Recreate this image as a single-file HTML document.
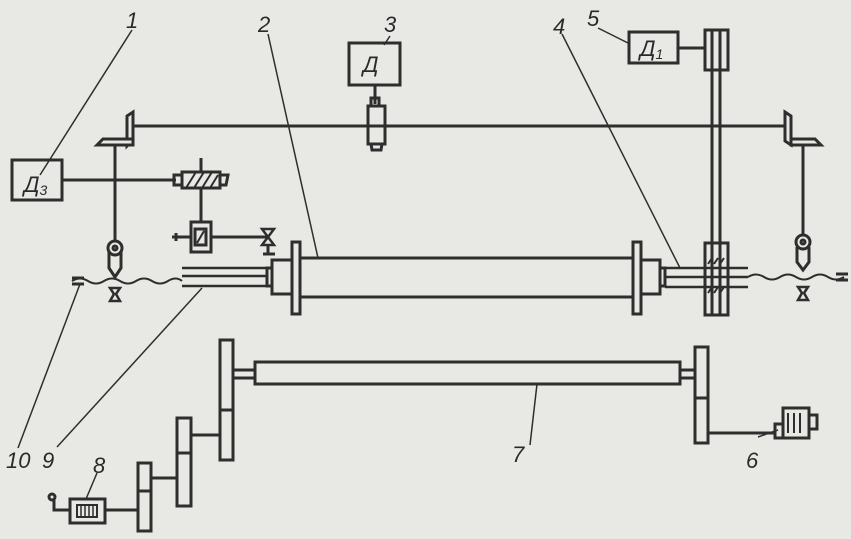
<!DOCTYPE html>
<html><head><meta charset="utf-8"><style>
html,body{margin:0;padding:0;background:#e8e8e5;}
svg{display:block}
text{font-family:"Liberation Sans",sans-serif;font-style:italic;fill:#2a2a2a}
</style></head><body>
<svg width="851" height="539" viewBox="0 0 851 539" xmlns="http://www.w3.org/2000/svg">
<rect width="851" height="539" fill="#e8e8e5"/>
<g stroke="#2e2e2e" stroke-width="3" fill="none">
<line x1="133" y1="126" x2="786" y2="126"/>
<path d="M127 146 L127 116 L133 112 L133 140 Z" fill="#e8e8e5"/>
<path d="M97 145 L103 139 L133 139 L133 145 Z" fill="#e8e8e5"/>
<line x1="115" y1="145" x2="115" y2="240"/>
<circle cx="115" cy="248" r="7"/><circle cx="115" cy="248" r="2"/>
<path d="M109 252 L109 268 L115 277 L121 268 L121 252"/>
<path d="M110 288 L120 288 L116 294 L120 301 L110 301 L114 294 Z" stroke-width="2.5"/>
<rect x="12" y="160" width="50" height="40"/>
<line x1="62" y1="180" x2="176" y2="180"/>
<rect x="174" y="175" width="8" height="10"/>
<rect x="182" y="172" width="38" height="16"/>
<path d="M186 188 L196 172 M194 188 L204 172 M202 188 L212 172 M210 188 L218 175" stroke-width="2"/>
<path d="M220 175 L228 175 L226 185 L220 185"/>
<line x1="201" y1="158" x2="201" y2="172"/>
<line x1="201" y1="188" x2="201" y2="222"/>
<path d="M191 222 L211 222 L211 252 L191 252 Z"/>
<rect x="195" y="229" width="11" height="16"/>
<line x1="197" y1="243" x2="204" y2="231" stroke-width="2"/>
<line x1="172" y1="237" x2="191" y2="237"/>
<line x1="176" y1="233" x2="176" y2="241"/>
<line x1="211" y1="237" x2="268" y2="237"/>
<path d="M262 229 L274 229 L268 237 L274 245 L262 245 L268 237 Z" stroke-width="2.5"/>
<line x1="263" y1="254" x2="275" y2="254"/><line x1="268" y1="245" x2="268" y2="254"/>
<rect x="298" y="258" width="337" height="39"/>
<rect x="292" y="242" width="8" height="72" fill="#e8e8e5"/>
<rect x="272" y="260" width="20" height="34"/>
<rect x="267" y="268" width="5" height="18"/>
<rect x="633" y="242" width="8" height="72" fill="#e8e8e5"/>
<rect x="641" y="260" width="19" height="34"/>
<rect x="660" y="268" width="5" height="18"/>
<line x1="182" y1="268" x2="267" y2="268" stroke-width="2.5"/>
<line x1="182" y1="276" x2="267" y2="276" stroke-width="2.5"/>
<line x1="182" y1="286" x2="267" y2="286" stroke-width="2.5"/>
<line x1="665" y1="268" x2="748" y2="268" stroke-width="2.5"/>
<line x1="665" y1="277" x2="748" y2="277" stroke-width="2.5"/>
<line x1="665" y1="287" x2="748" y2="287" stroke-width="2.5"/>
<path d="M72 281 q8 -5 16 0 t16 0 t16 0 t16 0 t16 0 t16 0 t14 0" stroke-width="2"/>
<path d="M748 277 q8 -5 16 0 t16 0 t16 0 t16 0 t16 0 t16 0" stroke-width="2"/>
<line x1="72" y1="278" x2="84" y2="278"/><line x1="72" y1="284" x2="84" y2="284"/>
<line x1="836" y1="274" x2="848" y2="274"/><line x1="836" y1="280" x2="848" y2="280"/>
<rect x="705" y="30" width="23" height="40" fill="#e8e8e5"/>
<line x1="712" y1="30" x2="712" y2="315"/><line x1="720" y1="30" x2="720" y2="315"/>
<rect x="705" y="243" width="23" height="72"/>
<path d="M708 264 L712 258 M714 264 L718 258 M720 264 L724 258 M708 293 L712 287 M714 293 L718 287 M720 293 L724 287" stroke-width="2"/>
<rect x="629" y="32" width="49" height="31"/>
<line x1="678" y1="48" x2="705" y2="48"/>
<rect x="349" y="43" width="51" height="42"/>
<line x1="375" y1="85" x2="375" y2="104"/>
<rect x="371" y="98" width="8" height="8"/>
<rect x="368" y="106" width="17" height="38"/>
<path d="M371 144 L372 150 L381 150 L382 144"/>
<path d="M785 112 L791 116 L791 145 L785 141 Z" fill="#e8e8e5"/>
<path d="M791 139 L815 139 L821 145 L791 145 Z" fill="#e8e8e5"/>
<line x1="803" y1="145" x2="803" y2="235"/>
<circle cx="803" cy="242" r="7"/><circle cx="803" cy="242" r="2"/>
<path d="M797 247 L797 262 L803 270 L809 262 L809 247"/>
<path d="M798 287 L808 287 L804 293 L808 300 L798 300 L802 293 Z" stroke-width="2.5"/>
<rect x="255" y="362" width="425" height="22"/>
<line x1="233" y1="370" x2="255" y2="370"/><line x1="233" y1="378" x2="255" y2="378"/>
<line x1="680" y1="370" x2="695" y2="370"/><line x1="680" y1="378" x2="695" y2="378"/>
<rect x="220" y="340" width="13" height="120"/><line x1="220" y1="410" x2="233" y2="410"/>
<rect x="695" y="347" width="13" height="96"/><line x1="695" y1="398" x2="708" y2="398"/>
<line x1="708" y1="433" x2="775" y2="433"/>
<rect x="775" y="424" width="8" height="14"/>
<rect x="783" y="408" width="26" height="30"/>
<path d="M788 413 L788 433 M794 413 L794 433 M800 413 L800 433" stroke-width="2"/>
<rect x="809" y="415" width="8" height="14"/>
<rect x="177" y="418" width="14" height="88"/><line x1="177" y1="453" x2="191" y2="453"/>
<line x1="191" y1="435" x2="220" y2="435"/>
<rect x="138" y="463" width="13" height="68"/><line x1="138" y1="491" x2="151" y2="491"/>
<line x1="151" y1="478" x2="177" y2="478"/>
<line x1="105" y1="510" x2="138" y2="510"/>
<rect x="70" y="499" width="35" height="24"/>
<rect x="77" y="505" width="20" height="12" stroke-width="2"/>
<path d="M81 506 L81 516 M85 506 L85 516 M89 506 L89 516 M93 506 L93 516" stroke-width="1.5"/>
<path d="M70 510 L54 510 L54 500" /><circle cx="52" cy="497" r="3"/>
<g stroke-width="1.5">
<line x1="132" y1="30" x2="40" y2="175"/>
<line x1="268" y1="34" x2="318" y2="258"/>
<line x1="390" y1="36" x2="384" y2="45"/>
<line x1="562" y1="34" x2="680" y2="268"/>
<line x1="598" y1="28" x2="630" y2="44"/>
<line x1="758" y1="437" x2="778" y2="430"/>
<line x1="530" y1="445" x2="537" y2="384"/>
<line x1="97" y1="473" x2="86" y2="499"/>
<line x1="57" y1="447" x2="202" y2="288"/>
<line x1="18" y1="448" x2="80" y2="284"/>
</g>
</g>
<g font-size="22">
<text x="126" y="28">1</text>
<text x="258" y="32">2</text>
<text x="384" y="32">3</text>
<text x="553" y="34">4</text>
<text x="587" y="26">5</text>
<text x="746" y="468">6</text>
<text x="512" y="462">7</text>
<text x="93" y="473">8</text>
<text x="42" y="468">9</text>
<text x="6" y="468">10</text>
<text x="24" y="192">Д<tspan font-size="14" dy="3">3</tspan></text>
<text x="363" y="72">Д</text>
<text x="640" y="56">Д<tspan font-size="14" dy="3">1</tspan></text>
</g>
</svg>
</body></html>
